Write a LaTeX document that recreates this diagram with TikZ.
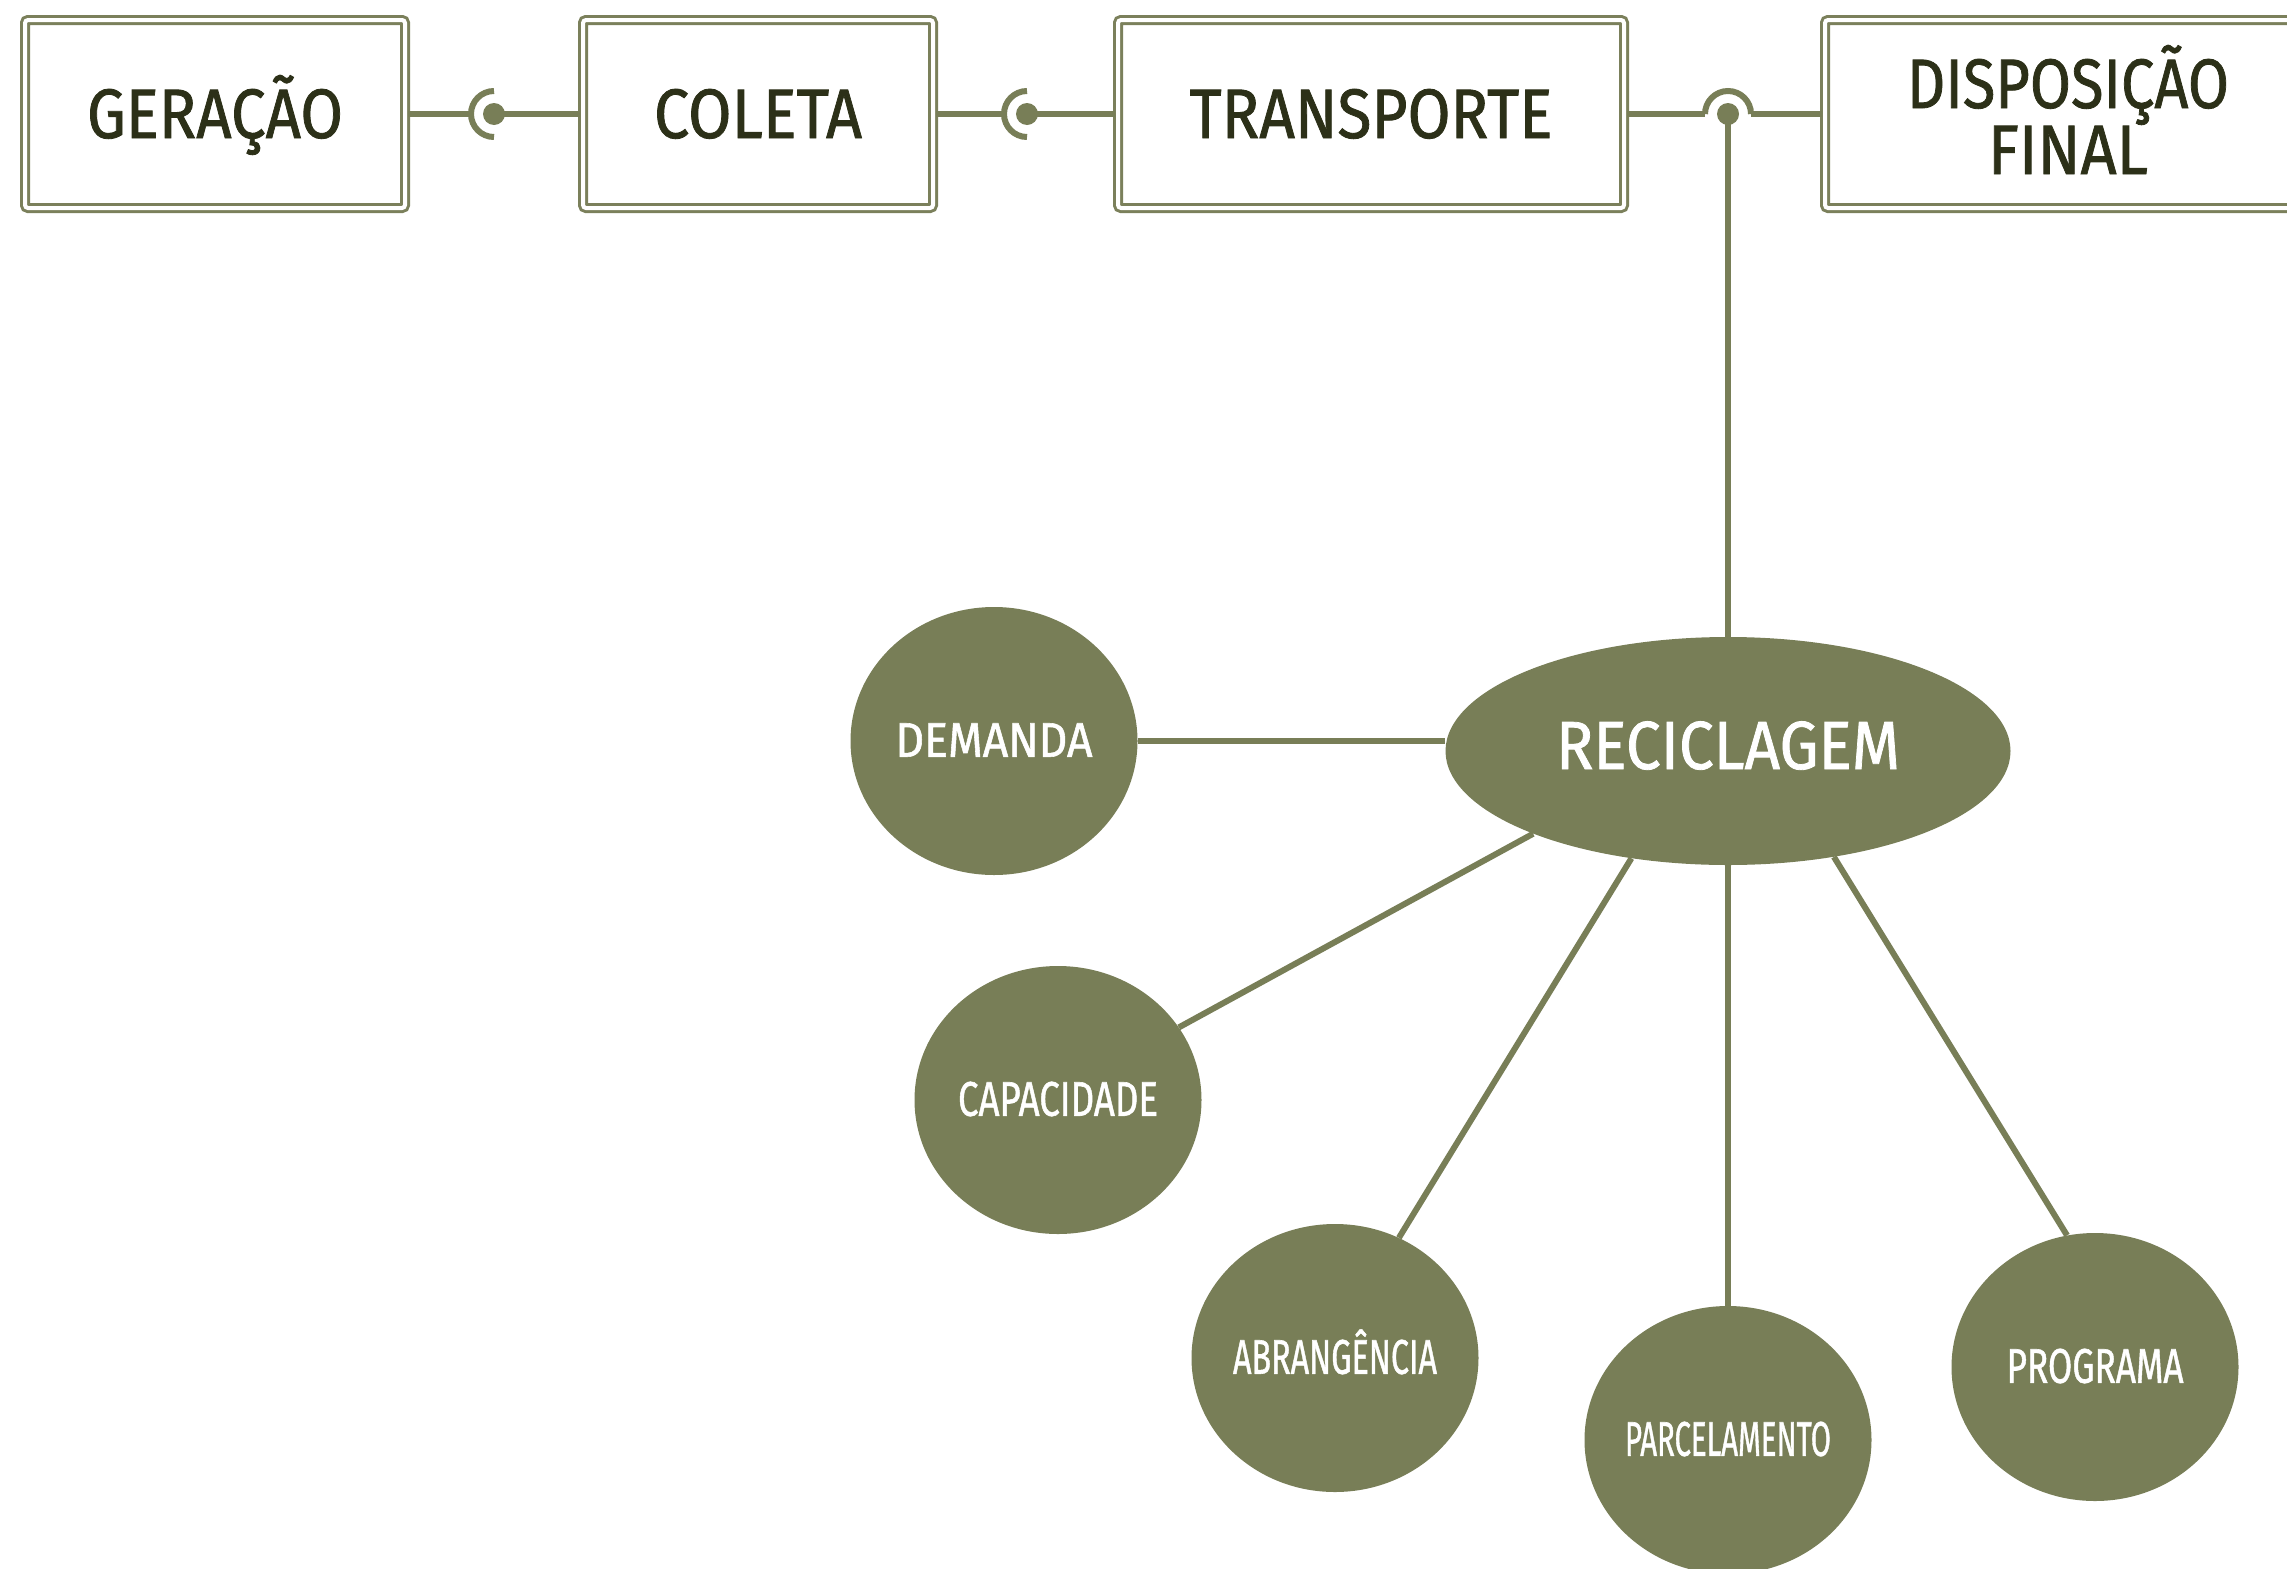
\documentclass[tikz,border=0pt]{standalone}
\usepackage{fontspec}
\setmainfont{Fira Sans}[FakeBold=1.2]
\usepackage{graphicx}
\usetikzlibrary{shapes.geometric}
\definecolor{oliveg}{HTML}{787E57}
\definecolor{boxc}{HTML}{7B805B}
\definecolor{darkt}{HTML}{2C3018}
\newcommand{\fitw}[3]{\resizebox{#1}{\height}{\fontsize{#2}{#2}\selectfont #3}}
\begin{document}
\begin{tikzpicture}[x=1pt,y=-1pt,
  dbox/.style={draw=boxc, line width=3pt, double=white, double distance=4pt,
    rounded corners=3pt, inner sep=0pt, outer sep=3pt, minimum height=188pt,
    text=darkt, text height=48pt, text depth=0pt},
  conn/.style={draw=oliveg, line width=6pt},
  sockarc/.style={draw=oliveg, line width=6pt},
  ballfill/.style={fill=oliveg},
  bubble/.style={ellipse, fill=oliveg, text=white, inner sep=0pt,
    minimum width=287pt, minimum height=268pt, text height=33.5pt, text depth=2pt},
  spoke/.style={draw=oliveg, line width=6pt}]
\useasboundingbox (0,0) rectangle (2287,1569);
\clip (0,0) rectangle (2287,1569);

% top boxes
\node[dbox, minimum width=380pt] (ger) at (215,114) {\fitw{256pt}{70pt}{GERAÇÃO}};
\node[dbox, minimum width=350pt] (col) at (758,114) {\fitw{208pt}{70pt}{COLETA}};
\node[dbox, minimum width=506pt] (tra) at (1371,114) {\fitw{363pt}{70pt}{TRANSPORTE}};
\node[dbox, minimum width=486pt] (dis) at (2068,114) {};
\node[text=darkt, anchor=base, inner sep=0pt] (dis1) at (2068,108) {\fitw{322pt}{70pt}{DISPOSIÇÃO}};
\node[text=darkt, anchor=base, inner sep=0pt] (dis2) at (2068,174) {\fitw{160pt}{70pt}{FINAL}};

% central ellipse and bubbles
\node[ellipse, fill=oliveg, text=white, inner sep=0pt, minimum width=565pt,
  minimum height=228pt, text height=47pt, text depth=11pt] (rec) at (1728,751)
  {\makebox[0pt]{\fitw{344pt}{68pt}{RECICLAGEM}}};
\node[bubble] (dem) at (994,741) {\makebox[0pt]{\fitw{197pt}{48.6pt}{DEMANDA}}};
\node[bubble] (cap) at (1058,1100) {\makebox[0pt]{\fitw{200pt}{48.6pt}{CAPACIDADE}}};
\node[bubble] (abr) at (1335,1358) {\makebox[0pt]{\fitw{204pt}{48.6pt}{ABRANGÊNCIA}}};
\node[bubble] (par) at (1728,1440) {\makebox[0pt]{\fitw{206pt}{48.6pt}{PARCELAMENTO}}};
\node[bubble] (pro) at (2095,1367) {\makebox[0pt]{\fitw{177pt}{48.6pt}{PROGRAMA}}};

% ball-and-socket connectors
\coordinate (s1) at (494,114);
\coordinate (s2) at (1027,114);
\coordinate (s3) at (1728,114);

\draw[conn] (ger.east) -- ([xshift=-23pt]s1);
\draw[sockarc] ([yshift=23pt]s1) arc[start angle=90, end angle=270, radius=23pt];
\draw[conn] (s1) -- (col.west);
\fill[ballfill] (s1) circle[radius=11pt];

\draw[conn] (col.east) -- ([xshift=-23pt]s2);
\draw[sockarc] ([yshift=23pt]s2) arc[start angle=90, end angle=270, radius=23pt];
\draw[conn] (s2) -- (tra.west);
\fill[ballfill] (s2) circle[radius=11pt];

\draw[conn] (tra.east) -- ([xshift=-23pt]s3);
\draw[sockarc] ([xshift=-23pt]s3) arc[start angle=180, end angle=0, radius=23pt];
\draw[conn] ([xshift=23pt]s3) -- (dis.west);
\draw[conn] (s3) -- (s3 |- rec.north);
\fill[ballfill] (s3) circle[radius=11pt];

% spokes
\draw[spoke] (dem.east) -- (dem.east -| rec.west);
\draw[spoke] (rec.203) -- (cap.31);
\draw[spoke] (rec.228) -- (abr.62);
\draw[spoke] (rec) -- (par);
\draw[spoke] (rec.315) -- (pro.102);
\end{tikzpicture}
\end{document}
